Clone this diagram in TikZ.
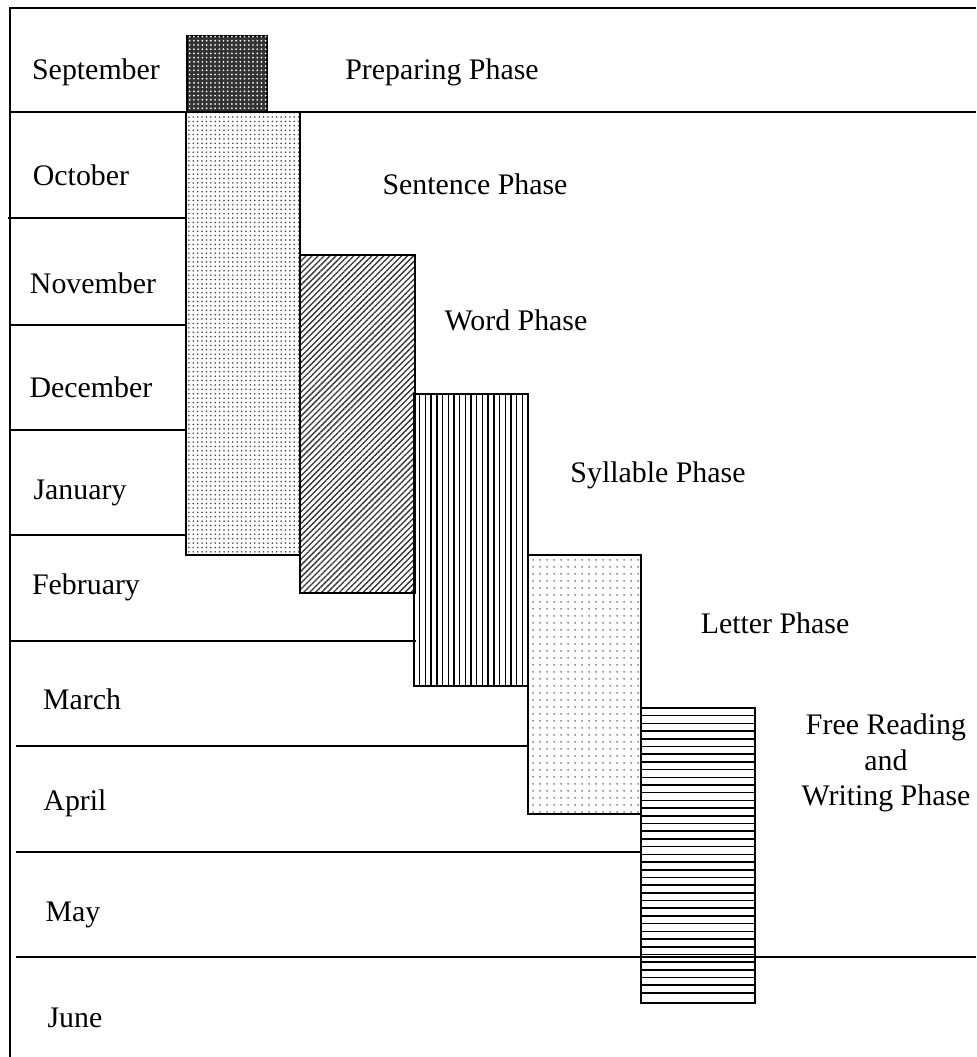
\documentclass[tikz,border=0pt]{standalone}
\usepackage{fontspec}
\setmainfont{Liberation Serif}
\usetikzlibrary{patterns,patterns.meta}

\begin{document}
\begin{tikzpicture}[x=0.02cm,y=-0.02cm,line width=1pt,
  month/.style={font=\fontsize{17}{20.4}\selectfont},
  phase/.style={font=\fontsize{17}{20.4}\selectfont,align=center}]
  \useasboundingbox (0,0) rectangle (976,1057);

  % frame and the line under September
  \draw (976,8) -- (10,8) -- (10,1057);
  \draw (10,112) -- (976,112);

  % lines between the months
  \foreach \y/\xa/\xb in {218/8/186, 325/10/186, 430/10/186, 535/10/186,
                          641/10/416, 746/16/528, 852/16/641, 957/16/976} {
    \draw (\xa,\y) -- (\xb,\y);
  }

  % the phase bars
  \draw[fill=black!80, postaction={pattern={Dots[distance=2.4pt,radius=0.55pt]}, pattern color=white}]
    (187,36) rectangle (267,112);
  \draw[pattern={Dots[distance=2.5pt,radius=0.5pt]}, pattern color=black!75] (186,112) rectangle (300,555);
  \draw[pattern={Lines[angle=45,distance=2.4pt,line width=0.75pt]}, pattern color=black!80] (300,255) rectangle (415,593);
  % vertical hatching
  \foreach \x in {419.7,425.4,...,524} {
    \draw[line width=0.8pt] (\x,394) -- (\x,686);
  }
  \draw (414,394) rectangle (528,686);
  \draw[pattern={Dots[distance=4pt,radius=0.5pt]}, pattern color=black!80] (528,555) rectangle (641,814);
  % horizontal hatching
  \foreach \y in {715.7,723.4,...,1000} {
    \draw[line width=0.9pt] (641,\y) -- (755,\y);
  }
  \draw (641,708) rectangle (755,1003);

  % months
  \node[month] (sep) at (96,72) {September};
  \node[month] (oct) at (81,175) {October};
  \node[month] (nov) at (93,283) {November};
  \node[month] (dec) at (91,387) {December};
  \node[month] (jan) at (80,493) {January};
  \node[month] (feb) at (86,587) {February};
  \node[month] (mar) at (82,699) {March};
  \node[month] (apr) at (75,803) {April};
  \node[month] (may) at (73,915) {May};
  \node[month] (jun) at (75,1018) {June};

  % phases
  \node[phase] (prep) at (442,72) {Preparing Phase};
  \node[phase] (sent) at (475,184) {Sentence Phase};
  \node[phase] (word) at (516,320) {Word Phase};
  \node[phase] (syll) at (658,475) {Syllable Phase};
  \node[phase] (lett) at (775,623) {Letter Phase};
  \node[phase] (free) at (886,763) {Free Reading\\and\\Writing Phase};
\end{tikzpicture}
\end{document}
